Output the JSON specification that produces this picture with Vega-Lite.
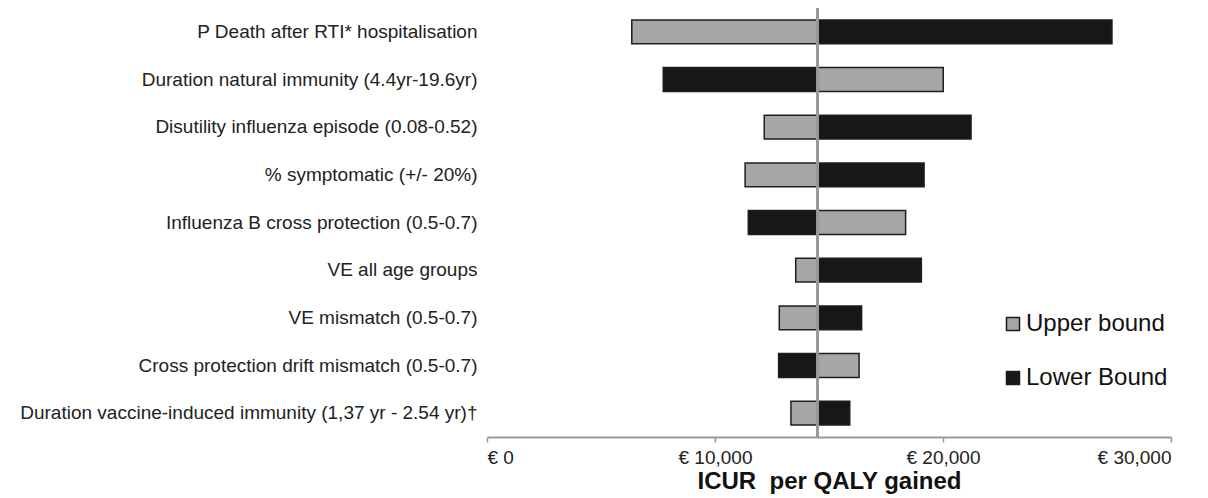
{
  "$schema": "https://vega.github.io/schema/vega-lite/v6.json",
  "width": 684,
  "height": 429,
  "autosize": "none",
  "padding": {"left": 487, "top": 8, "right": 37, "bottom": 61},
  "background": "white",
  "config": {"view": {"stroke": null}, "font": "Liberation Sans"},
  "data": {
    "values": [
      {"param": "P Death after RTI* hospitalisation", "bound": "Upper bound", "value": 6350},
      {"param": "P Death after RTI* hospitalisation", "bound": "Lower Bound", "value": 27410},
      {"param": "Duration natural immunity (4.4yr-19.6yr)", "bound": "Lower Bound", "value": 7730},
      {"param": "Duration natural immunity (4.4yr-19.6yr)", "bound": "Upper bound", "value": 20010},
      {"param": "Disutility influenza episode (0.08-0.52)", "bound": "Upper bound", "value": 12160},
      {"param": "Disutility influenza episode (0.08-0.52)", "bound": "Lower Bound", "value": 21230},
      {"param": "% symptomatic (+/- 20%)", "bound": "Upper bound", "value": 11320},
      {"param": "% symptomatic (+/- 20%)", "bound": "Lower Bound", "value": 19170},
      {"param": "Influenza B cross protection (0.5-0.7)", "bound": "Lower Bound", "value": 11460},
      {"param": "Influenza B cross protection (0.5-0.7)", "bound": "Upper bound", "value": 18360},
      {"param": "VE all age groups", "bound": "Upper bound", "value": 13540},
      {"param": "VE all age groups", "bound": "Lower Bound", "value": 19050},
      {"param": "VE mismatch (0.5-0.7)", "bound": "Upper bound", "value": 12820},
      {"param": "VE mismatch (0.5-0.7)", "bound": "Lower Bound", "value": 16430},
      {"param": "Cross protection drift mismatch (0.5-0.7)", "bound": "Lower Bound", "value": 12790},
      {"param": "Cross protection drift mismatch (0.5-0.7)", "bound": "Upper bound", "value": 16320},
      {"param": "Duration vaccine-induced immunity (1,37 yr - 2.54 yr)†", "bound": "Upper bound", "value": 13330},
      {"param": "Duration vaccine-induced immunity (1,37 yr - 2.54 yr)†", "bound": "Lower Bound", "value": 15910}
    ]
  },
  "layer": [
    {
      "mark": {"type": "bar", "stroke": "#1e1e1e", "strokeWidth": 1.5},
      "encoding": {
        "y": {
          "field": "param",
          "type": "nominal",
          "sort": null,
          "scale": {"paddingInner": 0.5, "paddingOuter": 0.25},
          "axis": {
            "title": null,
            "domain": false,
            "ticks": false,
            "labelFontSize": 19,
            "labelColor": "#222222",
            "labelPadding": 10,
            "labelLimit": 0
          }
        },
        "x": {
          "field": "value",
          "type": "quantitative",
          "scale": {"domain": [0, 30000], "nice": false},
          "axis": {
            "values": [0, 10000, 20000, 30000],
            "labelExpr": "'€ ' + format(datum.value, ',')",
            "grid": false,
            "domainColor": "#999999",
            "domainWidth": 2,
            "tickColor": "#999999",
            "tickWidth": 1.5,
            "tickSize": 5,
            "labelFontSize": 19,
            "labelColor": "#222222",
            "labelPadding": 6,
            "title": "ICUR\u00a0 per QALY gained",
            "titleFontSize": 24,
            "titleFontWeight": "bold",
            "titleColor": "#111111",
            "titlePadding": 2
          }
        },
        "x2": {"datum": 14500},
        "fill": {
          "field": "bound",
          "type": "nominal",
          "scale": {"domain": ["Upper bound", "Lower Bound"], "range": ["#a6a6a6", "#171717"]},
          "legend": {
            "title": null,
            "orient": "none",
            "legendX": 514,
            "legendY": 304,
            "symbolType": "square",
            "symbolSize": 169,
            "symbolStrokeColor": "#1a1a1a",
            "symbolStrokeWidth": 1.5,
            "labelFontSize": 24,
            "labelColor": "#111111",
            "labelOffset": 1,
            "rowPadding": 30
          }
        }
      }
    },
    {
      "mark": {"type": "rule", "color": "#999999", "strokeWidth": 2},
      "encoding": {"x": {"datum": 14500}}
    }
  ]
}
